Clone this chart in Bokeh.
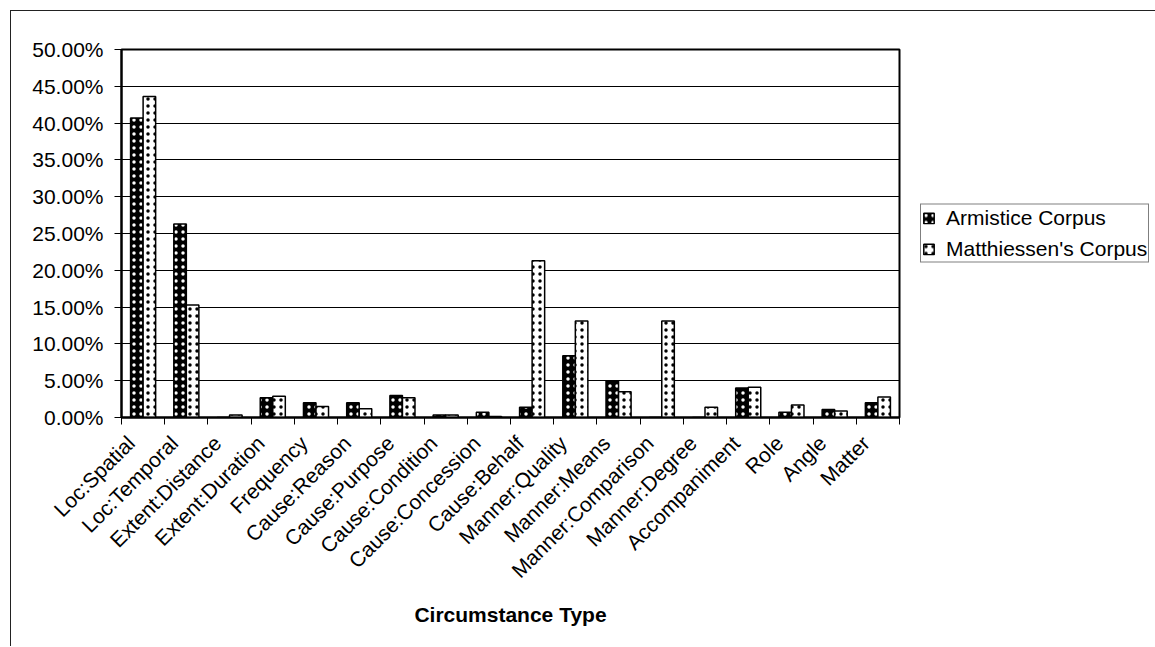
import math
from bokeh.plotting import figure
from bokeh.models import FixedTicker, Legend, LegendItem, Range1d
from bokeh.embed import file_html
from bokeh.resources import INLINE

categories = ["Loc:Spatial", "Loc:Temporal", "Extent:Distance", "Extent:Duration",
              "Frequency", "Cause:Reason", "Cause:Purpose", "Cause:Condition",
              "Cause:Concession", "Cause:Behalf", "Manner:Quality", "Manner:Means",
              "Manner:Comparison", "Manner:Degree", "Accompaniment", "Role",
              "Angle", "Matter"]
armistice = [40.7, 26.3, 0.0, 2.7, 2.0, 2.0, 3.0, 0.35, 0.7, 1.4,
             8.4, 5.0, 0.0, 0.0, 4.0, 0.7, 1.1, 2.0]
matthiessen = [43.6, 15.3, 0.35, 2.9, 1.5, 1.2, 2.7, 0.35, 0.15, 21.3,
               13.1, 3.5, 13.1, 1.4, 4.1, 1.7, 0.9, 2.8]
y_ticks = [0, 5, 10, 15, 20, 25, 30, 35, 40, 45, 50]
y_tick_labels = ["0.00%", "5.00%", "10.00%", "15.00%", "20.00%", "25.00%",
                 "30.00%", "35.00%", "40.00%", "45.00%", "50.00%"]
series_names = ["Armistice Corpus", "Matthiessen's Corpus"]
x_title = "Circumstance Type"

FONT = "Liberation Sans"
n = len(categories)
centers = [i + 0.5 for i in range(n)]
label_pos = [c - 0.28 for c in centers]
bw = 0.29

p = figure(frame_width=778, frame_height=368, output_backend="svg",
           toolbar_location=None, x_range=Range1d(0, n), y_range=Range1d(0, 50))
p.margin = (10, 0, 0, 10)
p.styles = {"border-left": "1px solid #222", "border-top": "1px solid #222"}
p.min_border_left = 110
p.min_border_top = 38
p.min_border_right = 256
p.min_border_bottom = 229
p.background_fill_color = "white"
p.border_fill_color = "white"
p.outline_line_color = "black"
p.outline_line_width = 2

ra = p.vbar(x=[c - bw / 2 for c in centers], top=armistice, width=bw,
            fill_color="black", hatch_pattern="dot", hatch_color="white",
            hatch_scale=7, hatch_weight=2, line_color="black", line_width=1.5)
rm = p.vbar(x=[c + bw / 2 for c in centers], top=matthiessen, width=bw,
            fill_color="white", hatch_pattern="dot", hatch_color="black",
            hatch_scale=7, hatch_weight=1.5, line_color="black", line_width=1.5)

# y axis
p.yaxis.ticker = FixedTicker(ticks=y_ticks)
p.yaxis.major_label_overrides = {t: l for t, l in zip(y_ticks, y_tick_labels)}
p.yaxis.major_tick_out = 7
p.yaxis.major_tick_in = 0
p.yaxis.minor_tick_line_color = None
p.yaxis.axis_line_width = 2
p.yaxis.major_tick_line_width = 1
p.yaxis.major_label_text_font = FONT
p.yaxis.major_label_text_font_size = "21px"
p.yaxis.major_label_text_color = "black"
p.yaxis.major_label_standoff = 11

# x axis
p.xaxis.ticker = FixedTicker(ticks=label_pos, minor_ticks=list(range(n + 1)))
p.xaxis.major_label_overrides = {c: cat for c, cat in zip(label_pos, categories)}
p.xaxis.major_tick_line_color = None
p.xaxis.minor_tick_line_color = "black"
p.xaxis.minor_tick_out = 7
p.xaxis.minor_tick_in = 0
p.xaxis.axis_line_width = 2
p.xaxis.major_label_orientation = math.pi / 4
p.xaxis.major_label_text_font = FONT
p.xaxis.major_label_text_font_size = "21px"
p.xaxis.major_label_text_color = "black"
p.xaxis.major_label_standoff = 15
p.xaxis.axis_label = x_title
p.xaxis.axis_label_text_font = FONT
p.xaxis.axis_label_text_font_size = "21px"
p.xaxis.axis_label_text_font_style = "bold"
p.xaxis.axis_label_text_color = "black"
p.xaxis.axis_label_standoff = 10

p.xgrid.grid_line_color = None
p.ygrid.ticker = FixedTicker(ticks=y_ticks)
p.ygrid.grid_line_color = "black"
p.ygrid.grid_line_width = 1

legend = Legend(items=[LegendItem(label=series_names[0], renderers=[ra]),
                       LegendItem(label=series_names[1], renderers=[rm])],
                location="left", orientation="vertical")
legend.margin = 21
legend.padding = 1
legend.spacing = 7
legend.glyph_width = 13
legend.glyph_height = 13
legend.label_standoff = 11
legend.label_height = 21
legend.label_text_font = FONT
legend.label_text_font_size = "21px"
legend.label_text_color = "black"
legend.border_line_color = "black"
legend.border_line_width = 1
legend.background_fill_color = "white"
p.add_layout(legend, "right")

open("out.html", "w").write(file_html(p, INLINE))
